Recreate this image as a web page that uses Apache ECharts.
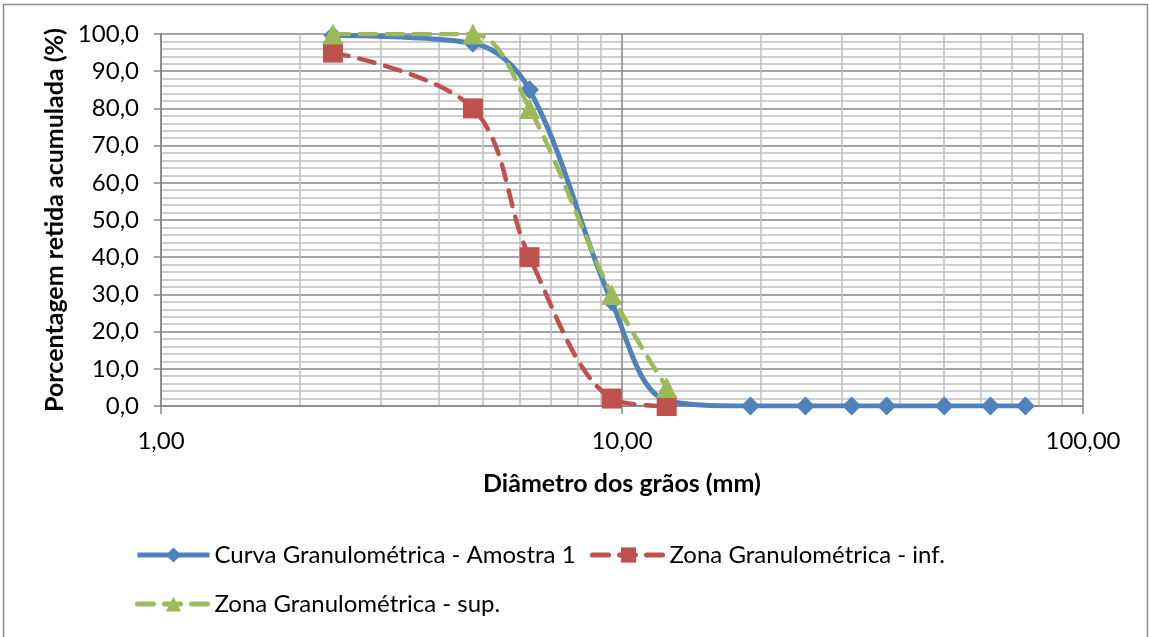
<!DOCTYPE html>
<html>
<head>
<meta charset="utf-8">
<script src="https://cdn.jsdelivr.net/npm/echarts@6/dist/echarts.min.js"></script>
<style>
  html, body { margin: 0; padding: 0; background: #fff; }
  #chart { width: 1149px; height: 637px; }
</style>
</head>
<body>
<div id="chart"></div>
<script>
// Sieve openings (mm)
const sieveSizes = [2.36, 4.75, 6.3, 9.5, 12.5, 19, 25, 31.5, 37.5, 50, 63, 75];
const zoneSizes = [2.36, 4.75, 6.3, 9.5, 12.5];

// Cumulative retained percentage
const amostra1 = [99.6, 97.5, 85, 28, 1.5, 0, 0, 0, 0, 0, 0, 0];
const zonaInf = [95, 80, 40, 2, 0];
const zonaSup = [100, 100, 80, 30, 5];

const seriesNames = [
  'Curva Granulométrica - Amostra 1',
  'Zona Granulométrica - inf.',
  'Zona Granulométrica - sup.'
];

const FONT = 'Lato';

function pairs(xs, ys) {
  return xs.map((x, i) => [x, ys[i]]);
}

const chart = echarts.init(document.getElementById('chart'), null, { renderer: 'canvas' });

const legendText = { fontFamily: FONT, fontSize: 24, color: '#000' };
const legendBase = {
  itemWidth: 72,
  itemHeight: 19,
  itemGap: 0,
  textStyle: legendText,
  lineStyle: { width: 5 },
  selectedMode: false
};

chart.setOption({
  animation: false,
  backgroundColor: '#fff',
  graphic: [{
    type: 'rect',
    shape: { x: 3.5, y: 4.5, width: 1144, height: 640 },
    style: { fill: null, stroke: '#8c8c8c', lineWidth: 1.5 },
    silent: true,
    z: -10
  }],
  grid: { left: 161, right: 66, top: 34, bottom: 231, containLabel: false },
  legend: [
    Object.assign({ data: [seriesNames[0]], left: 130, top: 538 }, legendBase),
    Object.assign({ data: [seriesNames[1]], left: 585, top: 538 }, legendBase),
    Object.assign({ data: [seriesNames[2]], left: 130, top: 587 }, legendBase)
  ],
  xAxis: {
    type: 'log',
    logBase: 10,
    min: 1,
    max: 100,
    name: 'Diâmetro dos grãos (mm)',
    nameLocation: 'middle',
    nameGap: 65,
    nameTextStyle: { fontFamily: FONT, fontSize: 25, fontWeight: 'bold', color: '#000' },
    axisLine: { show: true, onZero: false, lineStyle: { color: '#868686', width: 1.5 } },
    axisTick: { show: true, length: 8, lineStyle: { color: '#868686', width: 1.5 } },
    axisLabel: {
      fontFamily: FONT, fontSize: 24, color: '#000', margin: 23,
      formatter: v => v.toFixed(2).replace('.', ',')
    },
    splitLine: { show: true, lineStyle: { color: '#868686', width: 1.5 } },
    minorTick: { show: false, splitNumber: 9 },
    minorSplitLine: { show: true, lineStyle: { color: '#bfbfbf', width: 1.5 } }
  },
  yAxis: {
    type: 'value',
    min: 0,
    max: 100,
    interval: 10,
    name: 'Porcentagem retida acumulada (%)',
    nameLocation: 'middle',
    nameGap: 92,
    nameTextStyle: { fontFamily: FONT, fontSize: 25, fontWeight: 'bold', color: '#000' },
    axisLine: { show: true, lineStyle: { color: '#868686', width: 1.5 } },
    axisTick: { show: true, length: 7, lineStyle: { color: '#868686', width: 1.5 } },
    axisLabel: {
      fontFamily: FONT, fontSize: 24, color: '#000', margin: 22,
      formatter: v => v.toFixed(1).replace('.', ',')
    },
    splitLine: { show: true, lineStyle: { color: '#868686', width: 1.5 } },
    minorTick: { show: false, splitNumber: 5 },
    minorSplitLine: { show: true, lineStyle: { color: '#bfbfbf', width: 1.5 } }
  },
  series: [
    {
      name: seriesNames[0],
      type: 'line',
      data: pairs(sieveSizes, amostra1),
      smooth: 0.35,
      symbol: 'diamond',
      symbolSize: 19,
      itemStyle: { color: '#4f81bd' },
      lineStyle: { color: '#4f81bd', width: 5 },
      z: 3
    },
    {
      name: seriesNames[1],
      type: 'line',
      data: pairs(zoneSizes, zonaInf),
      smooth: 0.35,
      symbol: 'rect',
      symbolSize: 20,
      itemStyle: { color: '#c0504d' },
      lineStyle: { color: '#c0504d', width: 4.5, type: [16, 11], cap: 'round' },
      z: 4
    },
    {
      name: seriesNames[2],
      type: 'line',
      data: pairs(zoneSizes, zonaSup),
      smooth: 0.35,
      symbol: 'triangle',
      symbolSize: 21,
      itemStyle: { color: '#9bbb59' },
      lineStyle: { color: '#9bbb59', width: 4.5, type: [16, 11], cap: 'round' },
      z: 5
    }
  ]
});
</script>
</body>
</html>
